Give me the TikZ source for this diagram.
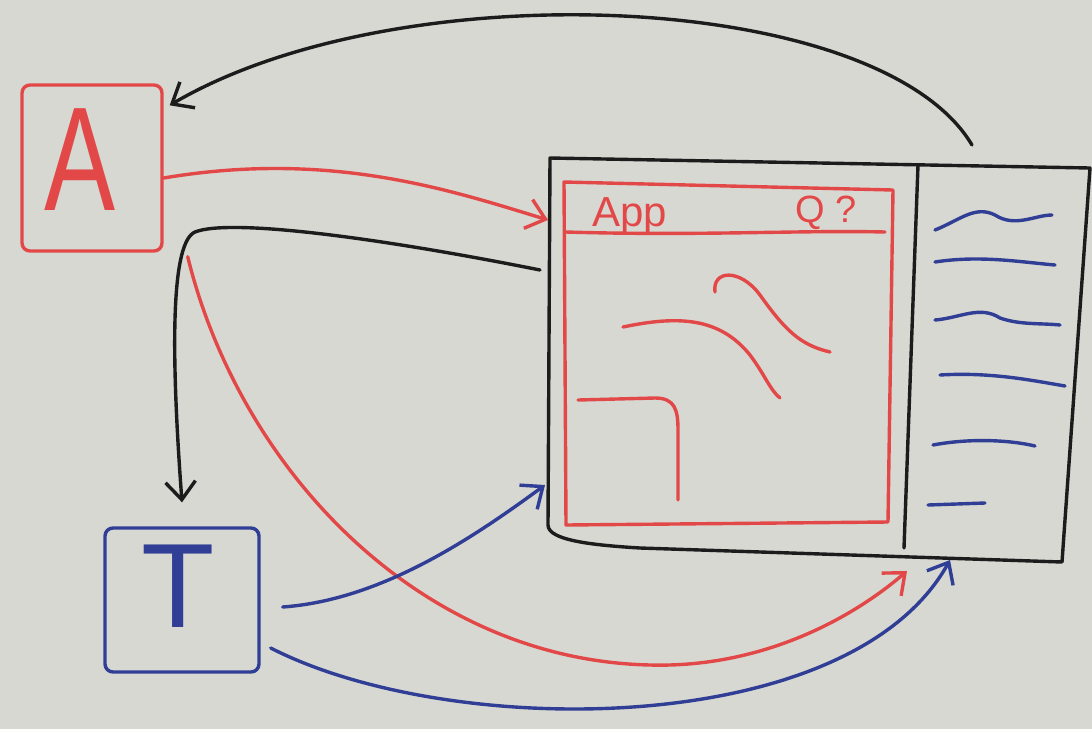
\documentclass[tikz,border=0pt]{standalone}
\usepackage{fontspec}
\setmainfont{Liberation Sans}
\usetikzlibrary{arrows.meta}
\definecolor{board}{RGB}{216,216,210}
\definecolor{mred}{RGB}{226,72,72}
\definecolor{mblue}{RGB}{48,62,150}
\definecolor{mblack}{RGB}{28,28,28}
\tikzset{
  pen/.style={line width=1.7pt, line cap=round, line join=round},
  redpen/.style={pen, draw=mred},
  bluepen/.style={pen, draw=mblue},
  blackpen/.style={pen, draw=mblack},
  barb/.style={-{Straight Barb[length=9pt,width=15pt]}},
}
\begin{document}
\begin{tikzpicture}[x=0.5pt,y=-0.5pt]
\fill[board] (0,0) rectangle (1092,729);
\useasboundingbox (0,0) rectangle (1092,729);

% A and T boxes
\node[redpen, rounded corners=4pt, minimum width=70pt, minimum height=83pt,
      inner sep=0pt] (A) at (92,168) {};
\node[text=mred, font=\fontsize{74}{80}\selectfont] (Aletter) at (80,160) {\scalebox{0.72}[1]{A}};
\node[bluepen, rounded corners=4pt, minimum width=77pt, minimum height=72pt,
      inner sep=0pt] (T) at (182,600) {};
\node[text=mblue, font=\fontsize{60}{66}\selectfont] (Tletter) at (178,586) {T};

% application window
\draw[blackpen] (550,158) -- (1090,168) -- (1062,562) -- (640,548)
   .. controls (590,545) and (548,540) .. (548,525) -- cycle;
\draw[blackpen] (918,165) -- (904,548);

\coordinate (wAppIn) at (548,220);
\coordinate (wBlack) at (540,270);
\coordinate (wTop) at (972,145);
\coordinate (wBlueIn) at (545,485);
\coordinate (pRed) at (907,571);
\coordinate (pBlue) at (950,560);

% red inner app frame
\draw[redpen] (564,182) -- (893,190) -- (888,522) -- (566,525) -- cycle;
\draw[redpen] (566,232) .. controls (700,236) and (800,230) .. (885,232);
\node[text=mred, font=\fontsize{21}{24}\selectfont, anchor=base west, inner sep=0pt] (app) at (592,226) {App};
\node[text=mred, font=\fontsize{19}{22}\selectfont, anchor=base west, inner sep=0pt] (qm) at (795,222) {Q ?};

% red content sketches
\draw[redpen] (715,292) .. controls (712,270) and (740,268) .. (760,295)
   .. controls (785,330) and (800,345) .. (830,352);
\draw[redpen] (623,327) .. controls (680,315) and (720,318) .. (750,355)
   .. controls (765,375) and (770,390) .. (780,398);
\draw[redpen] (578,400) -- (655,398) .. controls (675,398) and (678,410) .. (678,430) -- (678,500);

% blue list lines
\draw[bluepen] (935,230) .. controls (960,220) and (975,205) .. (995,215)
   .. controls (1015,228) and (1035,215) .. (1052,215);
\draw[bluepen] (935,262) .. controls (980,255) and (1020,262) .. (1055,265);
\draw[bluepen] (935,320) .. controls (960,318) and (980,305) .. (1000,318)
   .. controls (1020,325) and (1040,323) .. (1060,325);
\draw[bluepen] (940,375) .. controls (990,372) and (1030,380) .. (1065,386);
\draw[bluepen] (933,445) .. controls (970,438) and (1010,440) .. (1035,446);
\draw[bluepen] (928,505) -- (985,503);

% connectors
\draw[blackpen, barb] (wTop) .. controls (880,-10) and (400,-30) .. ([shift={(6,22)}]A.north east);
\draw[redpen, barb] ([yshift=-5pt]A.east) .. controls (330,150) and (450,190) .. (wAppIn);
\draw[blackpen, barb] (wBlack) .. controls (380,238) and (230,218) .. (195,232)
   .. controls (172,242) and (170,340) .. ([yshift=12pt]T.north);
\draw[redpen, barb] ([shift={(24,4)}]A.south east) .. controls (240,470) and (420,660) .. (650,665)
   .. controls (760,668) and (850,620) .. (pRed);
\draw[bluepen, barb] ([shift={(22,7)}]T.east) .. controls (380,600) and (470,540) .. (wBlueIn);
\draw[bluepen, barb] ([shift={(10,48)}]T.east) .. controls (450,740) and (850,740) .. (pBlue);
\end{tikzpicture}
\end{document}
